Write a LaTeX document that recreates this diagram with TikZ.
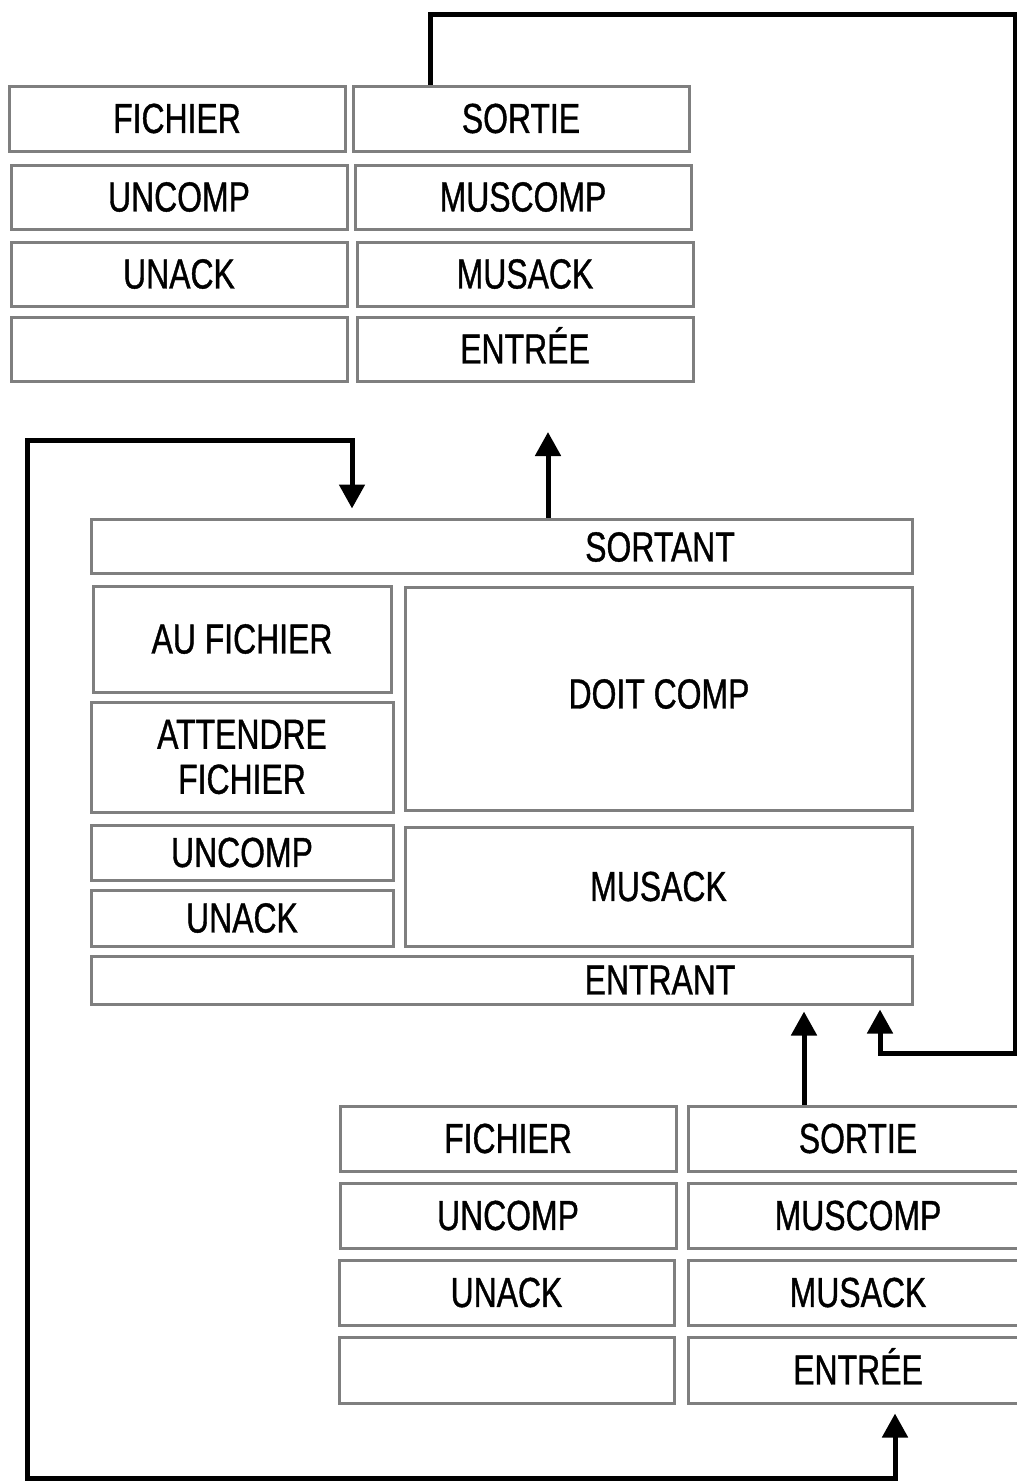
\documentclass[tikz,border=0pt]{standalone}
\usepackage{fontspec}
\setmainfont{Liberation Sans}[FakeStretch=0.76,FakeBold=0.9]
\usetikzlibrary{arrows.meta}
\definecolor{boxgray}{HTML}{7F7F7F}
\tikzset{
  bx/.style={draw=boxgray, line width=1.5pt, inner sep=0pt, align=center,
    font=\fontsize{21}{22.5}\selectfont},
  txt/.style={inner sep=0pt, font=\fontsize{21}{22.5}\selectfont},
  ln/.style={line width=2.5pt, black, line join=miter},
  tip/.style={-{Triangle[length=12pt,width=12.5pt]}},
  tips/.style={{Triangle[length=12pt,width=12.5pt]}-{Triangle[length=12pt,width=12.5pt]}},
}
\newcommand{\mybox}[6]{\node[bx, minimum width={(#4-#2)*0.5pt}, minimum height={(#5-#3)*0.5pt}] (#1) at ({(#2+#4)/2},{(#3+#5)/2}) {#6};}
\begin{document}
\begin{tikzpicture}[x=0.5pt,y=-0.5pt]
\useasboundingbox (0,0) rectangle (1017,1484);
% top group
\mybox{f1}{9}{86}{345}{151}{FICHIER}
\mybox{s1}{353}{86}{689}{151}{SORTIE}
\mybox{u1}{11}{165}{347}{229}{UNCOMP}
\mybox{m1}{355}{165}{691}{229}{MUSCOMP}
\mybox{a1}{11}{242}{347}{306}{UNACK}
\mybox{k1}{357}{242}{693}{306}{MUSACK}
\mybox{b1}{11}{317}{347}{381}{}
\mybox{e1}{357}{317}{693}{381}{ENTR\smash{É}E}
% middle group
\mybox{sortant}{91}{519}{912}{573}{}
\node[txt] (sortantT) at (660,547) {SORTANT};
\mybox{auf}{93}{586}{391}{692}{AU FICHIER}
\mybox{att}{91}{702}{393}{812}{ATTENDRE\\FICHIER}
\mybox{doit}{405}{587}{912}{810}{}
\node[txt] (doitT) at (659,694) {DOIT COMP};
\mybox{u2}{91}{825}{393}{880}{UNCOMP}
\mybox{a2}{91}{890}{393}{946}{UNACK}
\mybox{k2}{405}{827}{912}{946}{MUSACK}
\mybox{entrant}{91}{956}{912}{1004}{}
\node[txt] (entrantT) at (660,980) {ENTRANT};
% bottom group
\mybox{f3}{340}{1106}{676}{1171}{FICHIER}
\mybox{s3}{688}{1106}{1028}{1171}{SORTIE}
\mybox{u3}{340}{1183}{676}{1248}{UNCOMP}
\mybox{m3}{688}{1183}{1028}{1248}{MUSCOMP}
\mybox{a3}{339}{1260}{674}{1325}{UNACK}
\mybox{k3}{688}{1260}{1028}{1325}{MUSACK}
\mybox{b3}{339}{1337}{674}{1403}{}
\mybox{e3}{688}{1337}{1028}{1403}{ENTR\smash{É}E}
% coordinates
\coordinate (t1) at (430,14);
\coordinate (t2) at (1015,14);
\coordinate (t3) at (1015,1053);
\coordinate (t4) at (880,1053);
\coordinate (up1) at (548,432);
\coordinate (l1) at (352,440);
\coordinate (l2) at (27,440);
\coordinate (l3) at (27,1478);
\coordinate (l4) at (895,1478);
\coordinate (up2) at (804,1106);
% connectors
\draw[ln,tip,shorten >=2pt] (s1.north -| t1) -- (t1) -- (t2) -- (t3) -- (t4) -- (entrant.south -| t4);
\draw[ln,tip] (sortant.north -| up1) -- (up1);
\draw[ln,tips,shorten <=4.5pt,shorten >=4.5pt] (e3.south -| l4) -- (l4) -- (l3) -- (l2) -- (l1) -- (sortant.north -| l1);
\draw[ln,tip,shorten >=3pt] (s3.north -| up2) -- (entrant.south -| up2);
\end{tikzpicture}
\end{document}
